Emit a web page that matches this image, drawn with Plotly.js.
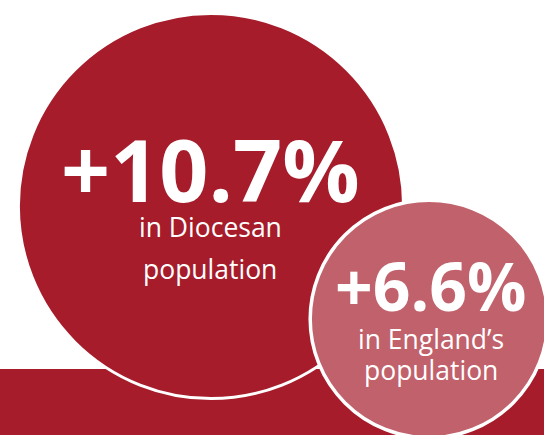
<!DOCTYPE html>
<html>
<head>
<meta charset="utf-8">
<script src="https://cdn.plot.ly/plotly-3.0.1.min.js"></script>
<style>html,body{margin:0;padding:0;background:#fff;}#chart{width:544px;height:435px;}</style>
</head>
<body>
<div id="chart"></div>
<script>
// ---- data ----
const categories = ["Diocesan", "England"];
const growthPct = [10.7, 6.6];
const labelLine1 = ["in Diocesan", "in England\u2019s"];
const labelLine2 = ["population", "population"];

// ---- layout constants (pixel space) ----
const W = 544, H = 435;
const centersX = [211, 429];
const centersY = [206, 319];
const sizePerPct = 36;
const fills = ["#A61C2A", "#C1616B"];
const borderW = [3, 3.5];

const traces = growthPct.map((v, i) => ({
  type: "scatter",
  mode: "markers",
  x: [centersX[i]],
  y: [centersY[i]],
  name: categories[i],
  cliponaxis: false,
  hoverinfo: "skip",
  marker: {
    size: v * sizePerPct,
    sizemode: "diameter",
    color: fills[i],
    line: { color: "#ffffff", width: borderW[i] }
  }
}));

const bigFont = [86, 66];
const smallFont = [26.5, 26.5];
const headY = [168, 285];
const line1Y = [227, 339];
const line2Y = [269, 370];
const textX = [210, 431];

const annotations = [];
growthPct.forEach((v, i) => {
  annotations.push({
    x: textX[i], y: headY[i], xref: "x", yref: "y", showarrow: false,
    xanchor: "center", yanchor: "middle",
    text: "+" + v.toFixed(1) + "%",
    font: { family: "Open Sans", size: bigFont[i], color: "#ffffff", weight: 700 }
  });
  annotations.push({
    x: textX[i], y: line1Y[i], xref: "x", yref: "y", showarrow: false,
    xanchor: "center", yanchor: "middle",
    text: labelLine1[i],
    font: { family: "Open Sans", size: smallFont[i], color: "#ffffff" }
  });
  annotations.push({
    x: textX[i], y: line2Y[i], xref: "x", yref: "y", showarrow: false,
    xanchor: "center", yanchor: "middle",
    text: labelLine2[i],
    font: { family: "Open Sans", size: smallFont[i], color: "#ffffff" }
  });
});

const layout = {
  width: W, height: H,
  margin: { l: 0, r: 0, t: 0, b: 0 },
  paper_bgcolor: "#ffffff", plot_bgcolor: "#ffffff",
  showlegend: false,
  xaxis: { range: [0, W], visible: false, fixedrange: true },
  yaxis: { range: [H, 0], visible: false, fixedrange: true },
  shapes: [{
    type: "rect", xref: "x", yref: "y", layer: "below",
    x0: 0, x1: W, y0: 369, y1: H,
    fillcolor: "#A61C2A", line: { width: 0 }
  }],
  annotations: annotations
};

Plotly.newPlot("chart", traces, layout, { staticPlot: true, displayModeBar: false });
</script>
</body>
</html>
